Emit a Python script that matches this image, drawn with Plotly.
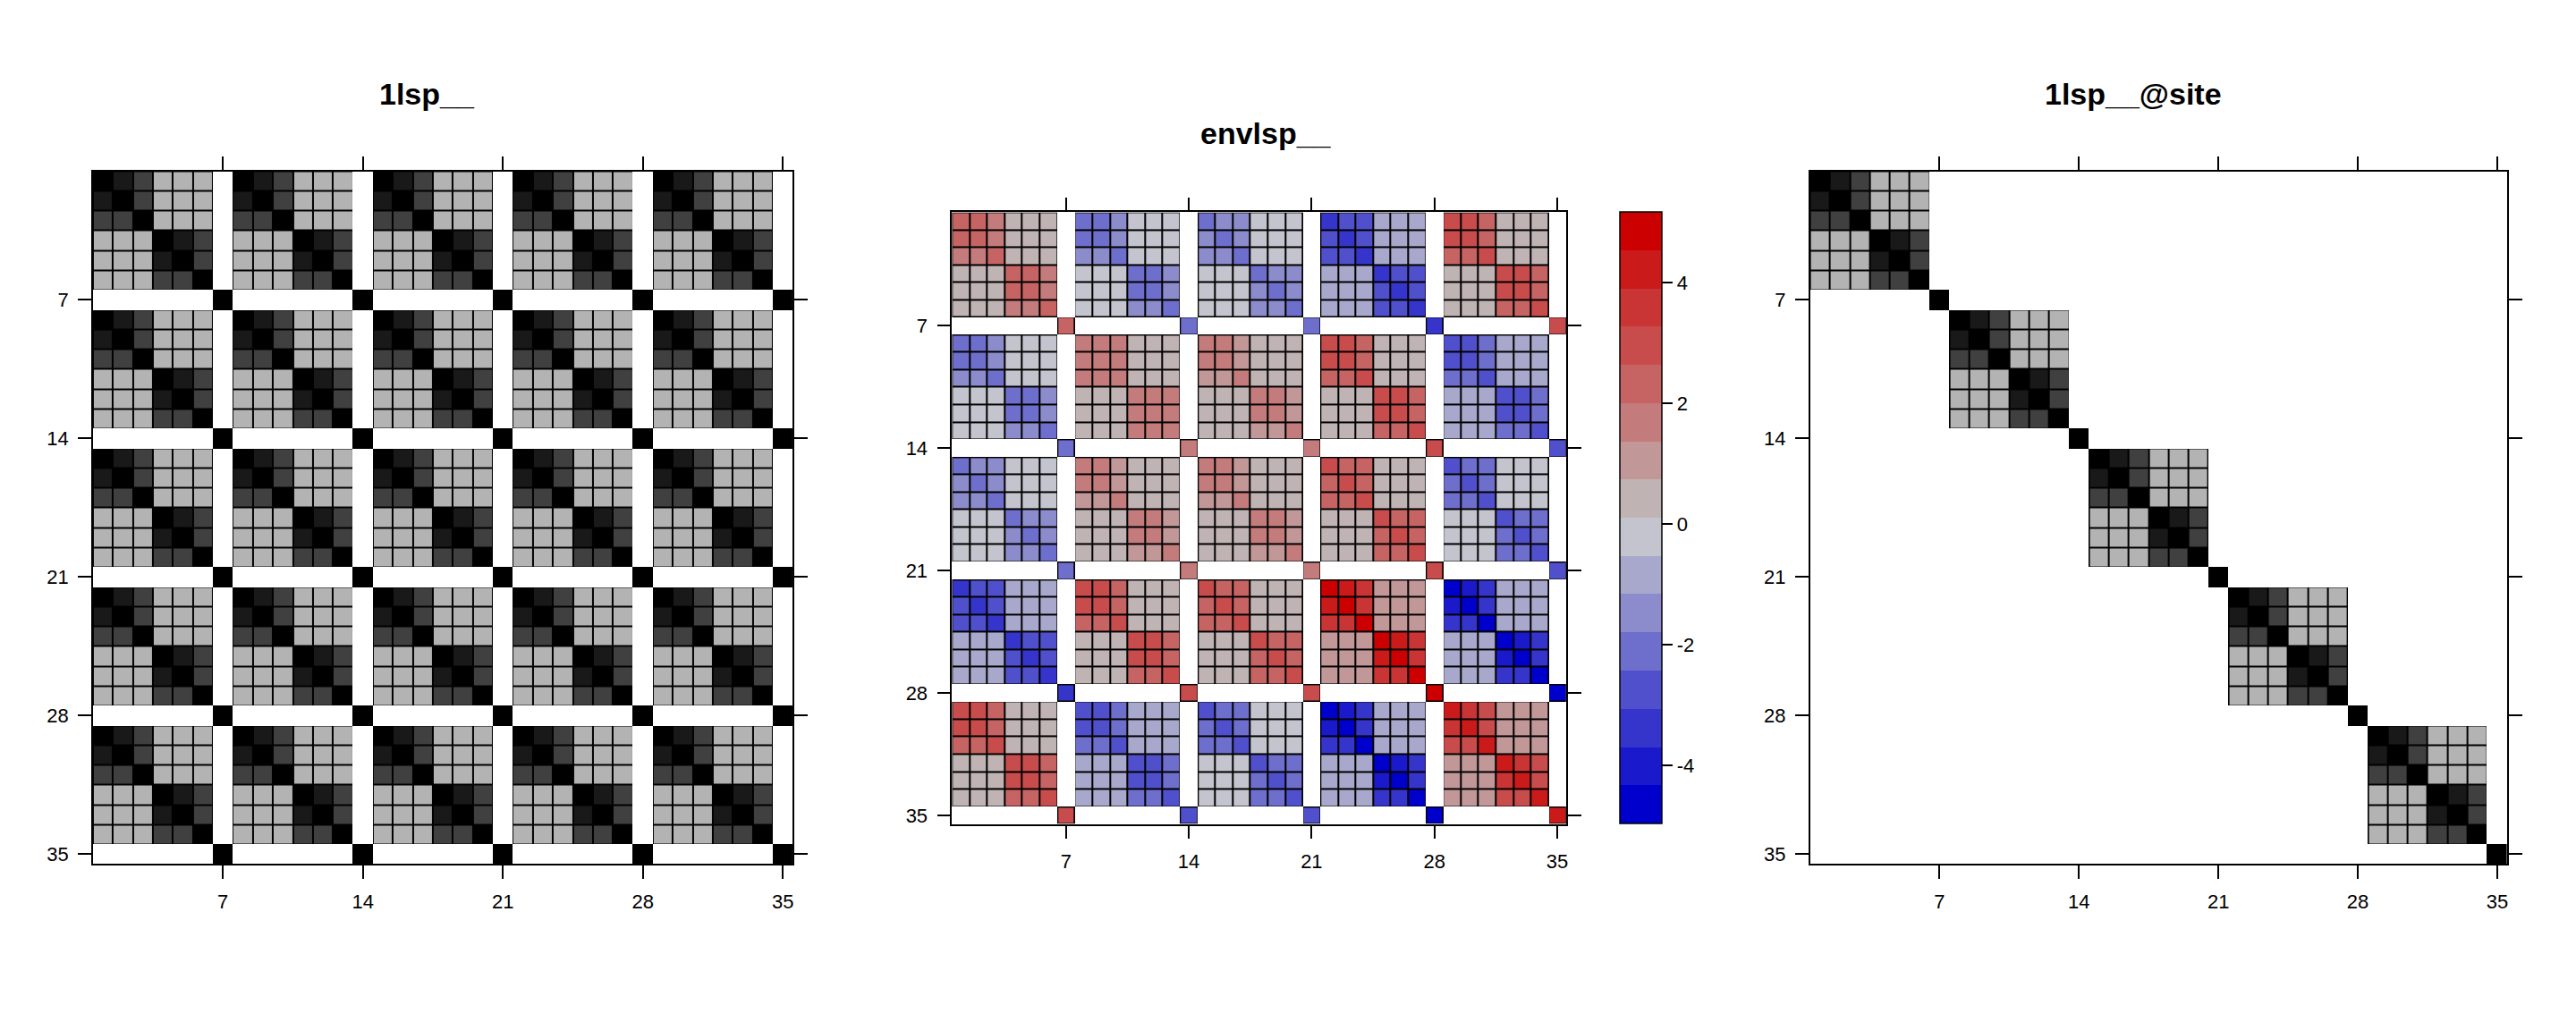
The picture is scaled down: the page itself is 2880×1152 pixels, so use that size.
import plotly.graph_objects as go

# ---------------- data ----------------
n_sites = 5
tick_vals = [7, 14, 21, 28, 35]
tick_text = ["7", "14", "21", "28", "35"]

# layout of one 7x7 site block: D diagonal, P near pair, Q far pair,
# C cross group, S seventh element, '-' structural zero / empty
block_pattern = [
    "DPQCCC-",
    "PDQCCC-",
    "QQDCCC-",
    "CCCDPQ-",
    "CCCPDQ-",
    "CCCQQD-",
    "------S",
]

# grey values of the 1lsp__ block (0 = white, 1 = black)
lsp_values = {"D": 1.00, "P": 0.90, "Q": 0.75, "C": 0.30, "S": 1.00, "-": 0.0}

# envlsp__ values read per site block (row site, column site)
env_diag = [
    [2.32, -2.12, -2.12, -3.38, 2.96],
    [-2.12, 1.69, 1.69, 2.96, -2.75],
    [-2.12, 1.69, 1.69, 2.96, -2.75],
    [-3.38, 2.96, 2.96, 5.05, -4.85],
    [2.96, -2.75, -2.75, -4.85, 4.22],
]
env_near = [
    [2.32, -2.12, -1.48, -2.75, 2.96],
    [-2.12, 1.69, 1.69, 2.96, -2.75],
    [-1.48, 1.69, 1.69, 2.32, -2.12],
    [-2.75, 2.96, 2.32, 4.22, -4.02],
    [2.96, -2.75, -2.12, -4.02, 3.59],
]
env_far = [
    [1.69, -1.48, -1.48, -2.75, 2.32],
    [-1.48, 1.69, 1.06, 2.32, -2.12],
    [-1.48, 1.06, 1.06, 2.32, -2.12],
    [-2.75, 2.32, 2.32, 3.59, -3.38],
    [2.32, -2.12, -2.12, -3.38, 2.96],
]
env_cross = [
    [0.42, -0.21, -0.21, -0.85, 0.42],
    [-0.21, 0.42, 0.42, 0.42, -0.85],
    [-0.21, 0.42, 0.42, 0.42, -0.21],
    [-0.85, 0.42, 0.42, 1.06, -0.85],
    [0.42, -0.85, -0.21, -0.85, 1.06],
]
env_seventh = env_diag

env_zmin, env_zmax = -4.97, 5.17
env_colors = [
    "#0000CC", "#1A1ACC", "#3535CC", "#5050CC", "#6E6ECC", "#8C8CCC",
    "#A8A8CC", "#C4C4CE", "#C0B3B3", "#C29797", "#C47B7B", "#C66464",
    "#C84C4C", "#C93434", "#CB1A1A", "#CC0000",
]
cbar_ticks = [-4, -2, 0, 2, 4]
cbar_text = ["-4", "-2", "0", "2", "4"]

titles = ["1lsp__", "envlsp__", "1lsp__@site"]

# ---------------- assemble matrices ----------------
N = n_sites * 7
idx = list(range(1, N + 1))


def empty():
    return [[None] * N for _ in range(N)]


lsp_full = empty()
lsp_site = empty()
env_full = empty()
for I in range(n_sites):
    for J in range(n_sites):
        for a in range(7):
            for b in range(7):
                ch = block_pattern[a][b]
                r, c = I * 7 + a, J * 7 + b
                lsp_full[r][c] = lsp_values[ch]
                if I == J and ch != "-":
                    lsp_site[r][c] = lsp_values[ch]
                if ch != "-":
                    src = {"D": env_diag, "P": env_near, "Q": env_far,
                           "C": env_cross, "S": env_seventh}[ch]
                    env_full[r][c] = src[I][J]


def mask(z, only_nonzero=True):
    return [[(1 if (v is not None and (v != 0 or not only_nonzero)) else None) for v in row] for row in z]


# ---------------- figure ----------------
W, H = 2880, 1152
FONT = "Liberation Sans, Arial, Helvetica, sans-serif"

panels = [  # (x0, x1, y0, y1) in pixels
    (104, 887, 192, 969),
    (1065, 1752, 238, 924),
    (2025, 2805, 192, 969),
]

fig = go.Figure()
grey_scale = [[0, "#FFFFFF"], [1, "#000000"]]
black_scale = [[0, "#000000"], [1, "#000000"]]
n = len(env_colors)
step_scale = []
for k, col in enumerate(env_colors):
    step_scale.append([k / n, col])
    step_scale.append([(k + 1) / n, col])

mats = [lsp_full, env_full, lsp_site]
for p, z in enumerate(mats):
    xa = "x" if p == 0 else f"x{p + 1}"
    ya = "y" if p == 0 else f"y{p + 1}"
    fig.add_trace(go.Heatmap(x=idx, y=idx, z=mask(z), colorscale=black_scale,
                             showscale=False, hoverinfo="skip", xaxis=xa, yaxis=ya))
    if p == 1:
        fig.add_trace(go.Heatmap(
            x=idx, y=idx, z=z, colorscale=step_scale, zmin=env_zmin, zmax=env_zmax,
            xgap=2, ygap=2, hoverinfo="skip", xaxis=xa, yaxis=ya,
            colorbar=dict(
                x=1812 / W, xanchor="left", xpad=0, ypad=0,
                y=1 - (238 + 924) / 2 / H, yanchor="middle",
                len=(924 - 238) / H, lenmode="fraction",
                thickness=47, thicknessmode="pixels",
                outlinewidth=1.5, outlinecolor="black",
                tickvals=cbar_ticks, ticktext=cbar_text,
                ticks="outside", ticklen=12, tickwidth=1.5, tickcolor="black",
                tickfont=dict(size=22, family=FONT, color="black"),
            )))
    else:
        fig.add_trace(go.Heatmap(
            x=idx, y=idx, z=z, colorscale=grey_scale, zmin=0, zmax=1,
            xgap=2, ygap=2, showscale=False, hoverinfo="skip", xaxis=xa, yaxis=ya))

axis_common = dict(
    tickvals=tick_vals, ticktext=tick_text, ticks="outside", ticklen=15,
    tickwidth=1.5, tickcolor="black", showline=True, linecolor="black",
    linewidth=1.5, mirror="ticks", showgrid=False, zeroline=False,
    tickfont=dict(size=22, family=FONT, color="black"), ticklabelstandoff=6,
)
layout = dict(width=W, height=H, margin=dict(l=0, r=0, t=0, b=0),
              paper_bgcolor="white", plot_bgcolor="white", showlegend=False)
for p, (x0, x1, y0, y1) in enumerate(panels):
    sx = "" if p == 0 else str(p + 1)
    layout[f"xaxis{sx}"] = dict(axis_common, domain=[x0 / W, x1 / W],
                                range=[0.5, N + 0.5], anchor=f"y{sx}")
    layout[f"yaxis{sx}"] = dict(axis_common, domain=[1 - y1 / H, 1 - y0 / H],
                                range=[N + 0.5, 0.5], anchor=f"x{sx}")
fig.update_layout(**layout)

title_pos = [(478, 105), (1416, 149), (2387, 105)]
for t, (tx, ty) in zip(titles, title_pos):
    fig.add_annotation(text=t, x=tx / W, y=1 - ty / H, xref="paper", yref="paper",
                       showarrow=False, xanchor="center", yanchor="middle",
                       font=dict(size=34, family=FONT, color="black", weight="bold"))

fig.write_html("out.html")
